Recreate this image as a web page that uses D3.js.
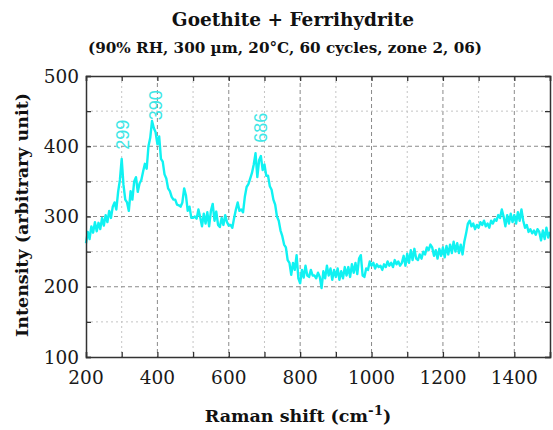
<!DOCTYPE html>
<html><head><meta charset="utf-8">
<script src="https://cdn.jsdelivr.net/npm/d3@7"></script>
<style>body{margin:0;background:#fff}</style>
</head><body>
<svg id="c" width="553" height="430"></svg>
<script>
// Raman shift sampling: start and step (cm-1)
const shiftStart = 200, shiftStep = 5;
// Intensity values, one per 5 cm-1 from 200 to 1500
const intensity = [
262,278,268,286,277,292,279,291,282,298,287,302,292,308,298,314,320,310,335,352,
382,345,324,320,308,336,324,350,356,335,347,352,364,375,368,400,412,436,426,420,
403,414,382,378,360,354,340,336,328,324,324,317,316,314,320,340,330,308,314,298,
298,300,297,310,299,286,304,290,306,286,308,318,294,307,288,285,298,288,302,292,
287,288,284,298,310,320,308,310,306,328,342,346,354,362,374,390,356,380,386,366,
374,358,358,343,338,324,317,300,294,280,272,260,256,238,234,217,234,224,245,212,
205,224,213,230,216,214,224,216,216,212,220,214,198,222,212,230,216,226,210,224,
214,226,210,222,212,228,216,228,214,232,220,234,218,240,245,216,214,226,224,236,
230,234,226,232,228,230,224,232,228,236,230,234,228,238,232,236,230,234,244,230,
247,234,252,238,254,240,238,246,240,250,246,256,252,260,256,244,252,240,254,244,
256,242,258,246,260,248,264,250,262,248,260,246,264,276,290,294,286,290,282,288,
284,292,288,294,286,290,284,294,290,296,294,302,298,310,300,286,302,290,304,292,
302,290,306,294,310,294,284,288,278,282,276,280,274,282,278,266,280,268,284,270,
278];
const xTicks = [200,400,600,800,1000,1200,1400];
const xMinor = [300,500,700,900,1100,1300,1500];
const yTicks = [100,200,300,400,500];
const yMinor = [150,250,350,450];
const peakShift = [299,390,686];
const peakLabel = ["299","390","686"];
const peakLabelAt = [395,437,405];

const title = "Goethite + Ferrihydrite";
const subtitle = "(90% RH, 300 µm, 20°C, 60 cycles, zone 2, 06)";

const W = 553, H = 430;
const L = 86, R = 550, T = 76, B = 357;
const svg = d3.select("#c");
svg.append("rect").attr("width", W).attr("height", H).attr("fill", "#fff");

const x = d3.scaleLinear().domain([200, 1500]).range([L, R]);
const y = d3.scaleLinear().domain([100, 500]).range([B, T]);

const data = intensity.map((v, i) => ({s: shiftStart + i * shiftStep, v}));

const serif = "'DejaVu Serif', 'Liberation Serif', serif";

// grid
const grid = svg.append("g");
grid.selectAll(".gx").data(xTicks.filter(d => d > 200)).join("line")
  .attr("x1", d => x(d)).attr("x2", d => x(d)).attr("y1", T).attr("y2", B)
  .attr("stroke", "#8a8a8a").attr("stroke-width", 1).attr("stroke-dasharray", "4,3");
grid.selectAll(".gxm").data(xMinor.filter(d => d < 1500)).join("line")
  .attr("x1", d => x(d)).attr("x2", d => x(d)).attr("y1", T).attr("y2", B)
  .attr("stroke", "#c4c4c4").attr("stroke-width", 1).attr("stroke-dasharray", "2,3");
grid.selectAll(".gy").data(yTicks.filter(d => d > 100 && d < 500)).join("line")
  .attr("y1", d => y(d)).attr("y2", d => y(d)).attr("x1", L).attr("x2", R)
  .attr("stroke", "#8a8a8a").attr("stroke-width", 1).attr("stroke-dasharray", "4,3");
grid.selectAll(".gym").data(yMinor).join("line")
  .attr("y1", d => y(d)).attr("y2", d => y(d)).attr("x1", L).attr("x2", R)
  .attr("stroke", "#c4c4c4").attr("stroke-width", 1).attr("stroke-dasharray", "2,3");

// spectrum
svg.append("path").datum(data)
  .attr("d", d3.line().x(d => x(d.s)).y(d => y(d.v)))
  .attr("fill", "none").attr("stroke", "#10f2f2").attr("stroke-width", 2.4)
  .attr("stroke-linejoin", "round");

// peak labels
svg.selectAll(".pk").data(peakShift).join("text")
  .attr("transform", (d, i) => `translate(${x(d) + 2},${y(peakLabelAt[i])}) rotate(-90)`)
  .attr("text-anchor", "start").attr("dominant-baseline", "central")
  .attr("font-family", "'Liberation Sans', Arial, sans-serif").attr("font-size", 18)
  .attr("fill", "#3ee6e6").text((d, i) => peakLabel[i]);

// axes (ticks inward on all sides)
const tk = 5;
const ax = svg.append("g");
ax.append("g").attr("transform", `translate(0,${B})`)
  .call(d3.axisBottom(x).tickValues(xTicks.concat(xMinor)).tickSize(-tk).tickFormat(""));
ax.append("g").attr("transform", `translate(0,${T})`)
  .call(d3.axisTop(x).tickValues(xTicks.concat(xMinor)).tickSize(-tk).tickFormat(""));
ax.append("g").attr("transform", `translate(${L},0)`)
  .call(d3.axisLeft(y).tickValues(yTicks.concat(yMinor)).tickSize(-tk).tickFormat(""));
ax.append("g").attr("transform", `translate(${R},0)`)
  .call(d3.axisRight(y).tickValues(yTicks.concat(yMinor)).tickSize(-tk).tickFormat(""));
ax.selectAll("path.domain").attr("stroke", "#333").attr("stroke-width", 1.5);
ax.selectAll(".tick line").attr("stroke", "#333").attr("stroke-width", 1.3);

// tick labels
svg.selectAll(".xl").data(xTicks).join("text")
  .attr("x", d => x(d)).attr("y", 384).attr("text-anchor", "middle")
  .attr("font-family", serif).attr("font-size", 18.5).attr("fill", "#1a1a1a").text(d => d);
svg.selectAll(".yl").data(yTicks).join("text")
  .attr("x", 79).attr("y", d => y(d) + 6.5).attr("text-anchor", "end")
  .attr("font-family", serif).attr("font-size", 18.5).attr("fill", "#1a1a1a").text(d => d);

// titles
svg.append("text").attr("x", 293).attr("y", 26).attr("text-anchor", "middle")
  .attr("font-family", serif).attr("font-weight", "bold").attr("font-size", 18.5)
  .attr("fill", "#111").text(title);
svg.append("text").attr("x", 285).attr("y", 53).attr("text-anchor", "middle")
  .attr("font-family", serif).attr("font-weight", "bold").attr("font-size", 15.2)
  .attr("fill", "#111").text(subtitle);

const xl = svg.append("text").attr("x", 298).attr("y", 422).attr("text-anchor", "middle")
  .attr("font-family", serif).attr("font-weight", "bold").attr("font-size", 17.5).attr("fill", "#111");
xl.append("tspan").text("Raman shift (cm");
xl.append("tspan").attr("dy", -7).attr("font-size", 13.5).text("-1");
xl.append("tspan").attr("dy", 7).text(")");

svg.append("text").attr("transform", "translate(28,215) rotate(-90)").attr("text-anchor", "middle")
  .attr("font-family", serif).attr("font-weight", "bold").attr("font-size", 17.5)
  .attr("fill", "#111").text("Intensity (arbitrary unit)");
</script>
</body></html>
